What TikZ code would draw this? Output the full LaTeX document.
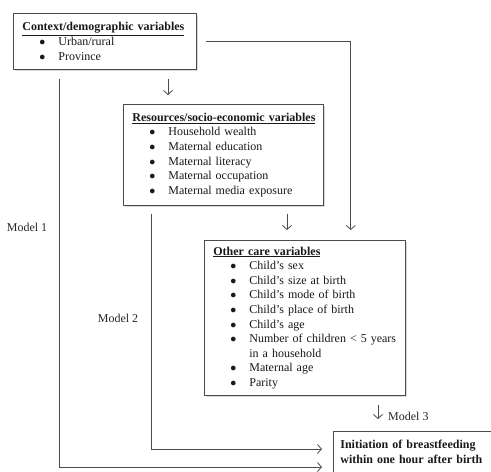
\documentclass[tikz,border=0pt]{standalone}
\usepackage{fontspec}
\setmainfont{Liberation Serif}
\usetikzlibrary{arrows.meta,positioning,shadows}

\newcommand{\itm}[1]{\makebox[36pt][l]{\hspace{17pt}$\bullet$}#1}
\newcommand{\hdr}[1]{\underline{\textbf{#1}}}

\begin{document}
\begin{tikzpicture}[
    x=1pt, y=-1pt,
    varbox/.style={draw=black!70, line width=0.8pt, fill=white, anchor=north west,
                   align=left, inner xsep=9pt, inner ysep=0pt, text=black!90,
                   font=\fontsize{12}{14.6}\selectfont,
                   drop shadow={shadow xshift=1.2pt, shadow yshift=-1.2pt, fill=black!30}},
    arr/.style={-{Straight Barb[length=4pt,width=9pt]}, line width=0.8pt, draw=black!70},
    lbl/.style={font=\fontsize{12}{14.6}\selectfont, text=black!85, inner sep=0pt},
]
\useasboundingbox (0,0) rectangle (491,472);

% Context box
\node[varbox, text width=165pt, minimum height=56pt] (ctx) at (13,13)
    {\hdr{Context/demographic variables}\\
     \itm{Urban/rural}\\
     \itm{Province}};

% Resources box
\node[varbox, text width=182pt, minimum height=101pt] (res) at (123,104)
    {\hdr{Resources/socio-economic variables}\\
     \itm{Household wealth}\\
     \itm{Maternal education}\\
     \itm{Maternal literacy}\\
     \itm{Maternal occupation}\\
     \itm{Maternal media exposure}};

% Other care box
\node[varbox, text width=183pt, minimum height=155pt] (oth) at (204,240)
    {\hdr{Other care variables}\\
     \itm{Child's sex}\\
     \itm{Child's size at birth}\\
     \itm{Child's mode of birth}\\
     \itm{Child's place of birth}\\
     \itm{Child's age}\\
     \itm{Number of children < 5 years}\\
     \hspace*{36pt}in a household\\
     \itm{Maternal age}\\
     \itm{Parity}};

% Outcome box (runs off the page)
\node[varbox, text width=160pt, inner xsep=7pt, inner ysep=9pt] (out) at (333,431)
    {\textbf{Initiation of breastfeeding}\\
     \textbf{within one hour after birth}};

% Free ends of the connectors
\coordinate (m1) at ([xshift=46pt,yshift=-9pt]ctx.south west);
\coordinate (m2) at ([xshift=28pt,yshift=-8pt]res.south west);
\coordinate (a1) at ([xshift=45pt]res.north west);
\coordinate (a2) at ([xshift=164pt]res.south west);
\coordinate (a3) at ([xshift=-55pt]oth.north east);
\coordinate (a4) at ([xshift=174pt]oth.south west);

% Arrows between boxes
\draw[arr, shorten <=9pt, shorten >=9pt] (ctx.south -| a1) -- (a1);
\draw[arr, shorten <=9pt] (ctx.east) -| ([yshift=10pt]a3);
\draw[arr, shorten <=8pt, shorten >=10pt] (a2) -- (oth.north -| a2);
\draw[arr, shorten <=9pt, shorten >=12pt] (a4) -- (out.north -| a4);

% Model paths into the outcome
\draw[arr] (m1) |- ([xshift=-11pt,yshift=-36pt]out.north west);
\draw[arr] (m2) |- ([xshift=-11pt,yshift=-18pt]out.north west);

% Labels
\node[lbl] (l1) at (27,227) {Model 1};
\node[lbl] (l2) at (118,318) {Model 2};
\node[lbl, anchor=west] (l3) at (388,416) {Model 3};
\end{tikzpicture}
\end{document}
